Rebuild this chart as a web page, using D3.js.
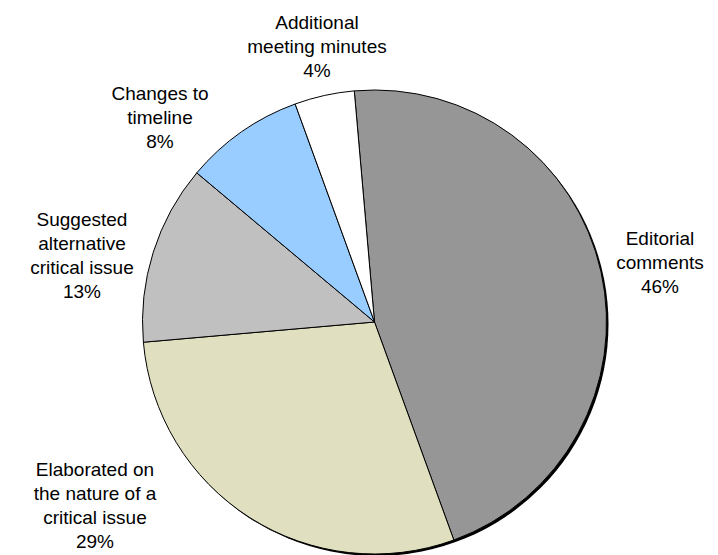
<!DOCTYPE html>
<html>
<head>
<meta charset="utf-8">
<script src="https://cdn.jsdelivr.net/npm/d3@7"></script>
<style>
  html, body { margin: 0; padding: 0; background: #ffffff; }
  svg { display: block; }
</style>
</head>
<body>
<svg id="chart" width="718" height="555"></svg>
<script>
// ---- data ----
const categories = [
  "Editorial comments",
  "Elaborated on the nature of a critical issue",
  "Suggested alternative critical issue",
  "Changes to timeline",
  "Additional meeting minutes"
];
const labelLines = [
  ["Editorial", "comments"],
  ["Elaborated on", "the nature of a", "critical issue"],
  ["Suggested", "alternative", "critical issue"],
  ["Changes to", "timeline"],
  ["Additional", "meeting minutes"]
];
const counts = [11, 7, 3, 2, 1];

// ---- styles / layout ----
const colors = ["#969696", "#e0e0c0", "#c0c0c0", "#99ccff", "#ffffff"];
const labelPos = [ // centre x, first-line centre y
  [660, 238],
  [95, 469],
  [82, 219],
  [160, 93],
  [317, 22]
];
const cx = 374.5, cy = 322, R = 232;
const lineH = 24;

const svg = d3.select("#chart");
const total = d3.sum(counts);
const startDeg = -5;
const pie = d3.pie().sort(null)
  .startAngle(startDeg * Math.PI / 180)
  .endAngle((startDeg + 360) * Math.PI / 180)
  .value(d => d);
const arcs = pie(counts);
const arc = d3.arc().innerRadius(0).outerRadius(R);

const g = svg.append("g").attr("transform", `translate(${cx},${cy})`);
// shadow
g.append("circle").attr("cx", 2).attr("cy", 2).attr("r", R).attr("fill", "#000");
g.selectAll("path.slice").data(arcs).enter().append("path")
  .attr("class", "slice")
  .attr("d", arc)
  .attr("fill", (d, i) => colors[i])
  .attr("stroke", "#000")
  .attr("stroke-width", 1)
  .attr("stroke-linejoin", "round");

const fmt = v => Math.round(v / total * 100) + "%";
const labels = svg.selectAll("text.lbl").data(arcs).enter().append("text")
  .attr("class", "lbl")
  .attr("text-anchor", "middle")
  .attr("font-family", "Arial, 'Liberation Sans', sans-serif")
  .attr("font-size", 19)
  .attr("fill", "#000");
labels.each(function(d, i) {
  const lines = labelLines[i].concat([fmt(d.value)]);
  const t = d3.select(this);
  lines.forEach((s, k) => {
    t.append("tspan")
      .attr("x", labelPos[i][0])
      .attr("y", labelPos[i][1] + k * lineH)
      .attr("dy", "0.35em")
      .text(s);
  });
});
</script>
</body>
</html>
